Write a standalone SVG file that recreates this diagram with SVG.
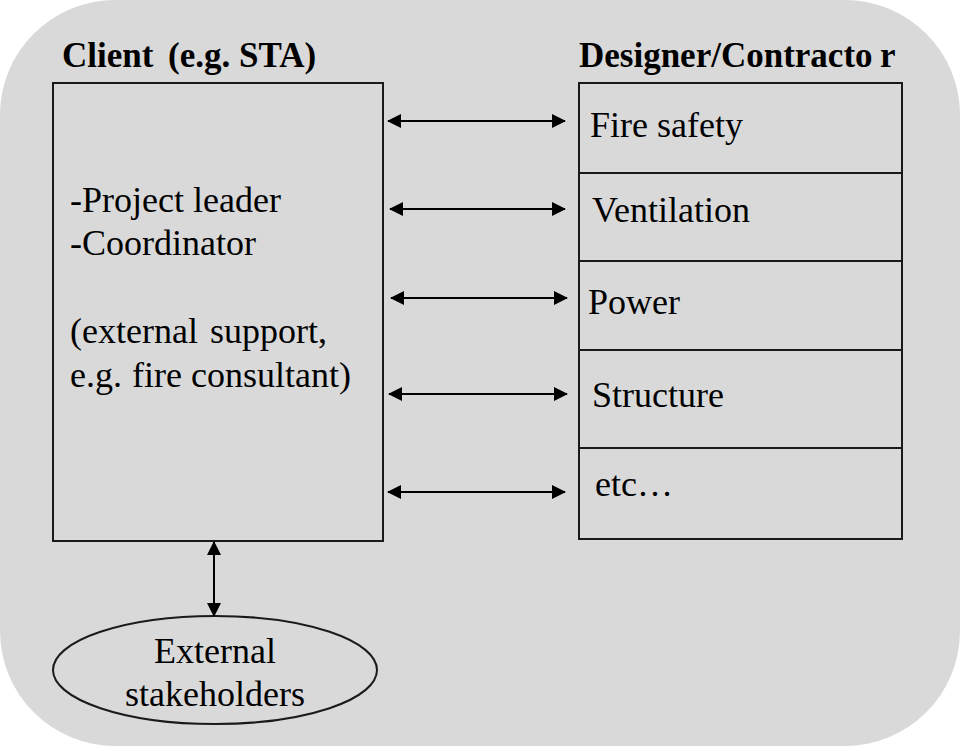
<svg xmlns="http://www.w3.org/2000/svg" width="960" height="746" viewBox="0 0 960 746">
<defs>
<style>
.box{fill:none;stroke:#1a1a1a;stroke-width:2}
text{font-family:'Liberation Serif','Times New Roman',serif;fill:#000}
.t{font-size:36px}
.h{font-size:35px;font-weight:bold}
.c{stroke:#000;stroke-width:2;fill:none;marker-start:url(#ah);marker-end:url(#ah)}
</style>
<marker id="ah" markerUnits="userSpaceOnUse" markerWidth="14" markerHeight="16" viewBox="0 0 14 16" refX="13" refY="8" orient="auto-start-reverse">
<path d="M0,1 L14,8 L0,15 Z" fill="#000"/>
</marker>
</defs>
<rect x="0" y="0" width="960" height="746" rx="115" ry="115" fill="#d9d9d9"/>
<g id="client">
<text class="h" x="62" y="67">Client <tspan x="168">(e.g. STA)</tspan></text>
<rect class="box" x="53" y="83" width="330" height="458"/>
<text class="t" x="70" y="212">-Project leader</text>
<text class="t" x="70" y="255">-Coordinator</text>
<text class="t" x="70" y="343">(external <tspan x="210">support,</tspan></text>
<text class="t" x="70" y="387">e.g. <tspan x="132">fire consultant)</tspan></text>
</g>
<g id="designer">
<text class="h" x="579" y="67">Designer/Contracto<tspan x="880">r</tspan></text>
<rect class="box" x="579" y="83" width="323" height="456"/>
<line class="box" x1="579" y1="173" x2="902" y2="173"/>
<line class="box" x1="579" y1="261" x2="902" y2="261"/>
<line class="box" x1="579" y1="350" x2="902" y2="350"/>
<line class="box" x1="579" y1="448" x2="902" y2="448"/>
</g>
<g id="fire-safety"><text class="t" x="590" y="137">Fire safety</text></g>
<g id="ventilation"><text class="t" x="592" y="222">Ventilation</text></g>
<g id="power"><text class="t" x="588" y="314">Power</text></g>
<g id="structure"><text class="t" x="592" y="407">Structure</text></g>
<g id="etc"><text class="t" x="595" y="496">etc…</text></g>
<g id="stakeholders">
<ellipse cx="215" cy="670" rx="162" ry="54" fill="none" stroke="#1a1a1a" stroke-width="2"/>
<text class="t" x="215" y="663" text-anchor="middle">External</text>
<text class="t" x="215" y="706" text-anchor="middle">stakeholders</text>
</g>
<g id="connectors">
<line class="c" x1="388" y1="121" x2="565" y2="121"/>
<line class="c" x1="390" y1="209" x2="565" y2="209"/>
<line class="c" x1="391" y1="298" x2="567" y2="298"/>
<line class="c" x1="389" y1="394" x2="567" y2="394"/>
<line class="c" x1="388" y1="492" x2="565" y2="492"/>
<line class="c" x1="214" y1="542" x2="214" y2="616"/>
</g>
</svg>
